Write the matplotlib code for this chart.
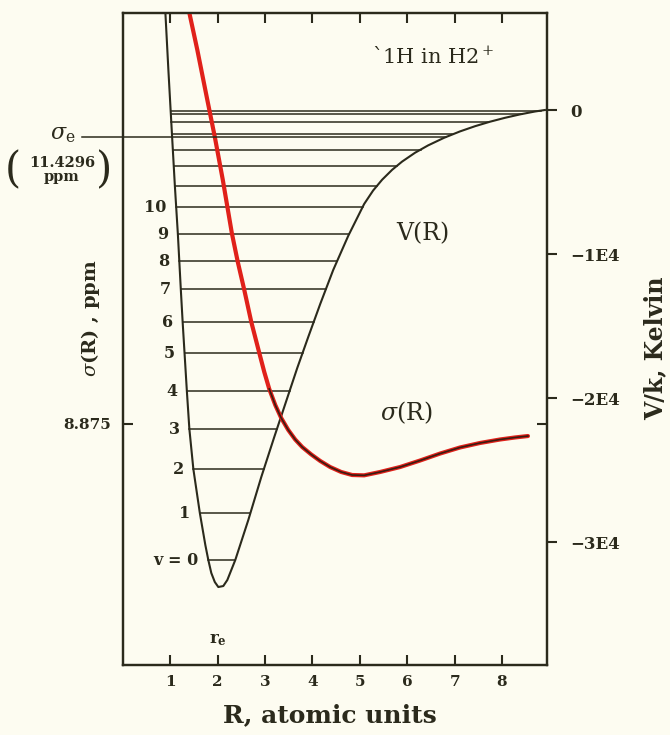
import numpy as np
import matplotlib
matplotlib.use('Agg')
import matplotlib.pyplot as plt

plt.rcParams['font.family'] = ['DejaVu Serif']
plt.rcParams['mathtext.fontset'] = 'dejavuserif'

INK = '#2b2a1c'
PAPER = '#fdfcf1'
RED = '#e0211a'

# potential curve V(R)/k: R in atomic units, V in Kelvin
wall_in_R = [0.895, 0.958, 1.032, 1.095, 1.158, 1.221, 1.259, 1.299, 1.348, 1.401,
             1.485, 1.622, 1.738, 1.801, 1.864, 1.938, 2.012]
wall_in_V = [6736, 2778, -1597, -5278, -8611, -12500, -14722, -16875, -19514, -22153,
             -24931, -27986, -30208, -31250, -32153, -32778, -33125]
wall_out_R = [2.012, 2.117, 2.202, 2.286, 2.370, 2.645, 2.919, 3.193, 3.446, 3.678,
              3.910, 4.163, 4.437, 4.753, 5.090, 5.280, 5.470, 5.681, 5.891, 6.166,
              6.440, 6.777, 7.114, 7.431, 7.747, 8.063, 8.379, 8.696, 8.906]
wall_out_V = [-33125, -33056, -32639, -31944, -31250, -28472, -25486, -22708, -20208, -17917,
              -15764, -13472, -11111, -8750, -6528, -5590, -4840, -4153, -3583, -2965,
              -2458, -1931, -1486, -1125, -813, -542, -306, -104, 0]

# vibrational levels v = 0 .. 17 (Kelvin)
levels = [-31250, -27986, -24931, -22153, -19514, -16875, -14722, -12431, -10486,
          -8611, -6736, -5278, -3889, -2750, -1700, -850, -280, -40]
level_labels = ['v = 0', '1', '2', '3', '4', '5', '6', '7', '8', '9', '10']

# shielding sigma(R), ppm
sig_R = [1.401, 1.569, 1.780, 1.938, 2.107, 2.297, 2.423, 2.560, 2.708, 2.877, 2.982,
         3.087, 3.214, 3.340, 3.488, 3.635, 3.783, 3.973, 4.163, 4.373, 4.605, 4.837,
         5.090, 5.428, 5.849, 6.271, 6.693, 7.114, 7.536, 7.958, 8.274, 8.548]
sig_val = [12.533, 12.204, 11.759, 11.430, 11.047, 10.575, 10.317, 10.068, 9.783, 9.507,
           9.338, 9.187, 9.044, 8.928, 8.822, 8.737, 8.670, 8.604, 8.546, 8.492, 8.448,
           8.421, 8.418, 8.448, 8.492, 8.550, 8.612, 8.666, 8.706, 8.737, 8.755, 8.768]
sigma_e = 11.4296
sigma_ref = 8.875

x_ticks = [1, 2, 3, 4, 5, 6, 7, 8]
v_ticks = [0, -10000, -20000, -30000]
v_tick_labels = ['0', '\u22121E4', '\u22122E4', '\u22123E4']

W, H = 670, 735


def fx(x):
    return x / W


def fy(y):
    return 1 - y / H


fig = plt.figure(figsize=(6.7, 7.35), dpi=100, facecolor=PAPER)
ax = fig.add_axes([fx(123), fy(665), (547 - 123) / W, (665 - 13) / H])
ax2 = ax.twinx()
ax.set_zorder(ax2.get_zorder() + 1)
ax.patch.set_visible(False)
ax2.patch.set_facecolor(PAPER)

ax.set_xlim(0, 8.95)
ax.set_ylim(6.730, 12.533)
ax2.set_ylim(-38540, 6736)

for a in (ax, ax2):
    for s in a.spines.values():
        s.set_linewidth(1.6)
        s.set_color(INK)

# potential curve
curve_R = np.array(wall_in_R + wall_out_R[1:])
curve_V = np.array(wall_in_V + wall_out_V[1:])
ax2.plot(curve_R, curve_V, color=INK, lw=1.5, solid_joinstyle='round')

# levels between the turning points
in_R, in_V = np.array(wall_in_R), np.array(wall_in_V)
out_R, out_V = np.array(wall_out_R), np.array(wall_out_V)
for i, E in enumerate(levels):
    r1 = np.interp(E, in_V[::-1], in_R[::-1])
    r2 = np.interp(E, out_V, out_R)
    ax2.plot([r1, r2], [E, E], color=INK, lw=1.1)
    if i < len(level_labels):
        ax2.annotate(level_labels[i], xy=(r1, E), xytext=(-7, 0),
                     textcoords='offset points', ha='right', va='center',
                     fontsize=11.5, fontweight='bold', color=INK)

# sigma(R)
sig_R_a = np.array(sig_R)
sig_a = np.array(sig_val)
ax.plot(sig_R_a, sig_a, color=RED, lw=3.0, solid_capstyle='round',
        solid_joinstyle='round')
dark = sig_R_a >= 3.0
ax.plot(sig_R_a[dark], sig_a[dark], color='#3a1c12', lw=1.2, solid_joinstyle='round')

# sigma_e line, out into the left margin and across to the outer wall
fig.canvas.draw()
ydisp = ax.transData.transform((0, sigma_e))[1]
E_e = ax2.transData.inverted().transform((0, ydisp))[1]
r_end = np.interp(E_e, out_V, out_R)
ax.plot([-41 / 424, r_end / 8.95], [sigma_e, sigma_e], color=INK, lw=1.1,
        transform=ax.get_yaxis_transform(), clip_on=False)

# ticks
ax.set_xticks(x_ticks)
ax.set_xticklabels([str(t) for t in x_ticks], fontsize=11, fontweight='bold', color=INK)
ax.tick_params(axis='x', which='both', bottom=True, top=True, direction='in',
               length=7, width=1.5, color=INK, pad=7)
ax.set_yticks([sigma_ref])
ax.set_yticklabels(['8.875'], fontsize=11, fontweight='bold', color=INK)
ax.tick_params(axis='y', left=True, right=True, direction='in', length=7, width=1.5,
               color=INK, pad=9)
ax2.set_yticks(v_ticks)
ax2.set_yticklabels(v_tick_labels, fontsize=12, fontweight='bold', color=INK)
ax2.tick_params(axis='y', direction='out', length=7, width=1.5, color=INK, pad=10)

# labels and annotations
ax2.text(6.55, 3680, r'`1H in H2$^+$', fontsize=15, ha='center', va='center', color=INK)
ax2.text(6.33, -8611, 'V(R)', fontsize=17, ha='center', va='center', color=INK)
ax2.text(5.98, -21040, r'$\sigma$(R)', fontsize=17, ha='center', va='center', color=INK)
ax2.text(2.0, -36800, r'r$_\mathbf{e}$', fontsize=12, fontweight='bold', ha='center',
         va='center', color=INK)

fig.text(fx(330), fy(715), 'R, atomic units', fontsize=18, fontweight='bold',
         ha='center', va='center', color=INK)
fig.text(fx(655), fy(348), 'V/k, Kelvin', fontsize=17, fontweight='bold', rotation=90,
         ha='center', va='center', color=INK)
fig.text(fx(90), fy(318), r'$\sigma$(R) , ppm', fontsize=14, fontweight='bold',
         rotation=90, ha='center', va='center', color=INK)
fig.text(fx(63), fy(134), r'$\sigma_\mathrm{e}$', fontsize=16, ha='center', va='center',
         color=INK)
fig.text(fx(62), fy(170), '11.4296\nppm', fontsize=10.5, fontweight='bold',
         ha='center', va='center', linespacing=1.0, color=INK)
fig.text(fx(13), fy(170), '(', fontsize=30, ha='center', va='center', color=INK)
fig.text(fx(104), fy(170), ')', fontsize=30, ha='center', va='center', color=INK)

fig.savefig('out.png', dpi=100, facecolor=PAPER)
